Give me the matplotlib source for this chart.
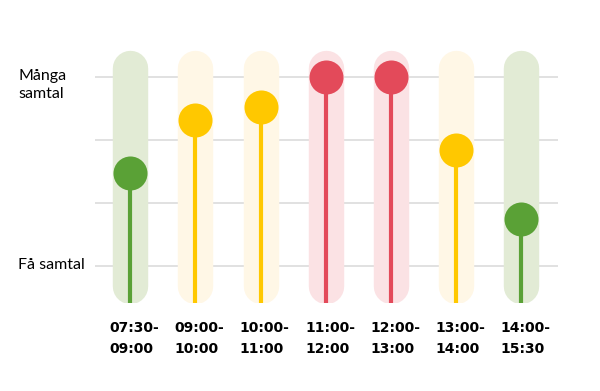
import matplotlib.pyplot as plt
import matplotlib.transforms as mtransforms

# data
slots = ['07:30-\n09:00', '09:00-\n10:00', '10:00-\n11:00', '11:00-\n12:00',
         '12:00-\n13:00', '13:00-\n14:00', '14:00-\n15:30']
levels = [1.48, 2.32, 2.52, 3.0, 3.0, 1.84, 0.75]
load = ['low', 'mid', 'mid', 'high', 'high', 'mid', 'low']

dark = {'low': '#5AA136', 'mid': '#FFC800', 'high': '#E34A5A'}
pale = {'low': '#E2EBD5', 'mid': '#FFF7E6', 'high': '#FBE2E4'}

fig = plt.figure(figsize=(6, 3.91), dpi=100)
ax = fig.add_axes([95 / 600, (391 - 303) / 391, (558 - 95) / 600, 253 / 391])
# category spacing ~65.2 px, first centre at x=130 px
ax.set_xlim(-(130.3 - 95) / 65.17, (558 - 130.3) / 65.17)
ax.set_ylim(-0.587, 3.429)

# grid lines
for g in [0, 1, 2, 3]:
    ax.axhline(g, color='#D9D9D9', linewidth=1.1, zorder=0)

for i, (v, c) in enumerate(zip(levels, load)):
    # pale pill behind
    ax.plot([i, i], [-0.31, 3.15], color=pale[c], linewidth=25.5,
            solid_capstyle='round', zorder=1)
    # stem + head
    ax.plot([i, i], [-0.587, v], color=dark[c], linewidth=3, zorder=2,
            solid_capstyle='butt')
    ax.plot(i, v, 'o', color=dark[c], markersize=24.5, markeredgewidth=0, zorder=3)

ax.axis('off')

# x labels
shift = mtransforms.offset_copy(ax.transData, fig=fig, x=3, y=0, units='points')
for i, s in enumerate(slots):
    ax.text(i, -0.87, s, transform=shift, ha='center', va='top', multialignment='left',
            fontsize=10, fontweight='bold', family='DejaVu Sans', linespacing=1.65)

fig.text(18 / 600, 1 - 85 / 391, 'Många\nsamtal', ha='left', va='center',
         fontsize=11.5, family='Lato', linespacing=1.4)
fig.text(18 / 600, 1 - 265 / 391, 'Få samtal', ha='left', va='center',
         fontsize=11.5, family='Lato')

fig.savefig('out.png', dpi=100)
